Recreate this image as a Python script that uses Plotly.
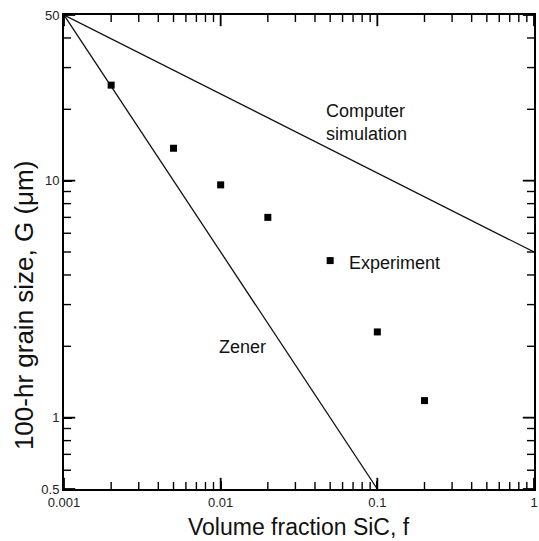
import plotly.graph_objects as go

# Measured 100-hr grain size vs SiC volume fraction
exp_f = [0.002, 0.005, 0.01, 0.02, 0.05, 0.1, 0.2]
exp_G = [25.3, 13.7, 9.6, 7.0, 4.6, 2.3, 1.18]

# Model lines (end points on log-log axes)
zener_f = [0.001, 0.1]
zener_G = [50, 0.5]
sim_f = [0.001, 1.0]
sim_G = [50, 5.0]

x_ticks = [0.001, 0.01, 0.1, 1]
x_ticktext = ["0.001", "0.01", "0.1", "1"]
y_ticks = [0.5, 1, 10, 50]
y_ticktext = ["0.5", "1", "10", "50"]
x_minor = [m * 10 ** e for e in (-3, -2, -1) for m in range(2, 10)]
y_minor = [0.6, 0.7, 0.8, 0.9] + list(range(2, 10)) + [20, 30, 40]

x_lo, x_hi = 0.001, 1.0
y_lo, y_hi = 0.5, 50.0

font_name = "Liberation Sans, Arial, sans-serif"

fig = go.Figure()
fig.add_trace(go.Scatter(x=zener_f, y=zener_G, mode="lines",
                         line=dict(color="#111111", width=1.3), showlegend=False))
fig.add_trace(go.Scatter(x=sim_f, y=sim_G, mode="lines",
                         line=dict(color="#111111", width=1.3), showlegend=False))
fig.add_trace(go.Scatter(x=exp_f, y=exp_G, mode="markers",
                         marker=dict(symbol="square", size=7, color="#000000"),
                         showlegend=False))


def tick_marks(xs, ys, symbol, size, width):
    """Line-shaped markers centred on the frame; the plot clip keeps the inner half."""
    fig.add_trace(go.Scatter(
        x=xs, y=ys, mode="markers", cliponaxis=True, hoverinfo="skip",
        marker=dict(symbol=symbol, size=size, color="#000000",
                    line=dict(color="#000000", width=width)),
        showlegend=False))


# inward ticks along bottom/top (vertical strokes) and left/right (horizontal strokes)
for vals, size, width in ((x_minor, 10, 1.4), (x_ticks, 16, 1.8)):
    tick_marks(vals + vals, [y_lo] * len(vals) + [y_hi] * len(vals), "line-ns", size, width)
for vals, size, width in ((y_minor, 10, 1.4), (y_ticks, 16, 1.8)):
    tick_marks([x_lo] * len(vals) + [x_hi] * len(vals), vals + vals, "line-ew", size, width)

axis_common = dict(
    type="log", showgrid=False, zeroline=False, showline=True,
    linecolor="#000000", linewidth=2, mirror=True,
    ticks="inside", ticklen=8, tickwidth=2, tickcolor="#000000",
    tickfont=dict(family=font_name, size=13, color="#222222"),
    automargin=False,
)

fig.update_xaxes(**axis_common, range=[-3, 0], tickmode="array",
                 tickvals=x_ticks, ticktext=x_ticktext)
fig.update_yaxes(**axis_common, range=[-0.30103, 1.69897], tickmode="array",
                 tickvals=y_ticks, ticktext=y_ticktext)

ann_font = dict(family=font_name, size=18, color="#111111")
fig.add_annotation(x=-1.339, y=1.2454, xref="x", yref="y", text="Computer<br>simulation",
                   showarrow=False, xanchor="left", yanchor="middle", align="left",
                   font=ann_font)
fig.add_annotation(x=-1.1945, y=0.6526, xref="x", yref="y", text="Experiment",
                   showarrow=False, xanchor="left", yanchor="middle", font=ann_font)
fig.add_annotation(x=-2.021, y=0.2982, xref="x", yref="y", text="Zener",
                   showarrow=False, xanchor="left", yanchor="middle", font=ann_font)

# Axis titles
fig.add_annotation(x=0.5, y=0, xref="paper", yref="paper", yshift=-38,
                   text="Volume fraction SiC, f", showarrow=False,
                   xanchor="center", yanchor="middle",
                   font=dict(family=font_name, size=23, color="#111111"))
fig.add_annotation(x=0, y=0.388, xref="paper", yref="paper", xshift=-40,
                   text="100-hr grain size, G (\u03bcm)", showarrow=False, textangle=-90,
                   xanchor="center", yanchor="middle",
                   font=dict(family=font_name, size=26, color="#111111"))

fig.update_layout(
    width=539, height=541,
    margin=dict(l=64, r=5, t=15, b=52),
    plot_bgcolor="white", paper_bgcolor="white",
)

fig.write_html("out.html")
